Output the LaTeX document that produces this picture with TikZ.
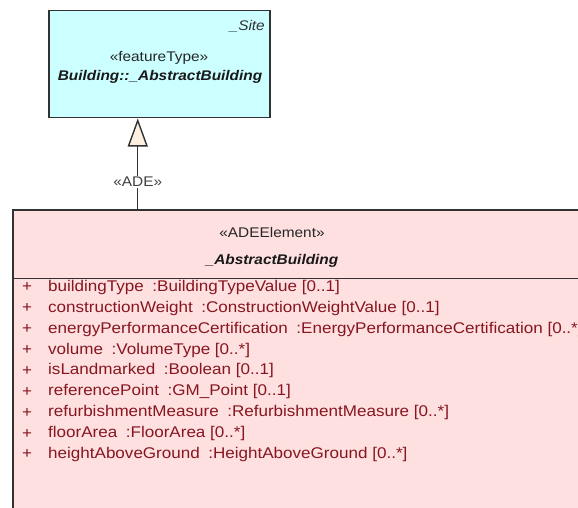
\documentclass[tikz,border=0pt]{standalone}
\usepackage{fontspec}
\setmainfont{Liberation Sans}[FakeStretch=1.1]
\usetikzlibrary{arrows.meta}
\definecolor{sitecyan}{RGB}{204,255,255}
\definecolor{adepink}{RGB}{255,224,224}
\definecolor{attrred}{RGB}{135,22,32}
\definecolor{umlborder}{RGB}{50,50,50}
\definecolor{gencream}{RGB}{253,240,225}
\begin{document}
\begin{tikzpicture}[x=1pt,y=-1pt,
    classbox/.style={draw=umlborder, line width=1.5pt, rectangle, inner sep=0pt, anchor=north west},
    stereo/.style={font=\fontsize{14}{16}\selectfont, text=black!85, inner sep=0pt},
    cname/.style={font=\fontsize{14}{16}\selectfont\bfseries\itshape, text=black!90, inner sep=0pt},
    pkgname/.style={font=\fontsize{14}{16}\selectfont\itshape, text=black!80, inner sep=0pt},
    attr/.style={font=\fontsize{15.5}{18}\selectfont, text=attrred, inner sep=0pt},
    generalize/.style={draw=umlborder, line width=1.4pt, -{Triangle[length=28pt, width=20pt, fill=gencream]}}]
    \clip (0,0) rectangle (578,508);
    \fill[white] (0,0) rectangle (578,508);

    % superclass from Building package
    \node[classbox, fill=sitecyan, minimum width=221pt, minimum height=107pt] (site) at (48,10) {};
    \node[pkgname, anchor=east] (sitepkg) at (265,26) {\_Site};
    \node[stereo] (sitestereo) at (159,58) {«featureType»};
    \node[cname] (sitename) at (160,77) {Building::\_AbstractBuilding};

    % ADE element
    \node[classbox, fill=adepink, minimum width=640pt, minimum height=340pt] (abs) at (12,209) {};
    \node[stereo] (absstereo) at (272,232) {«ADEElement»};
    \node[cname] (absname) at (272,261) {\_AbstractBuilding};
    \draw[draw=umlborder, line width=1.5pt] (abs.west |- 0,278.5) -- (abs.east |- 0,278.5);

    \foreach \aname/\atype [count=\i] in {
        buildingType/BuildingTypeValue [0..1],
        constructionWeight/ConstructionWeightValue [0..1],
        energyPerformanceCertification/EnergyPerformanceCertification [0..*],
        volume/VolumeType [0..*],
        isLandmarked/Boolean [0..1],
        referencePoint/GM\_Point [0..1],
        refurbishmentMeasure/RefurbishmentMeasure [0..*],
        floorArea/FloorArea [0..*],
        heightAboveGround/HeightAboveGround [0..*]}{
        \node[attr] (plus\i) at (27,287.3+20.9*\i-20.9) {+};
        \node[attr, anchor=west] (attr\i) at (48,287.3+20.9*\i-20.9) {\aname\hspace{0.55em}:\atype};
    }

    % generalization
    \coordinate (gentip) at ([xshift=-21.5pt]site.south);
    \draw[generalize] (gentip |- abs.north) -- node[pos=0.3, fill=white, inner sep=1.5pt, font=\fontsize{14}{16}\selectfont, text=black!75] (adelabel) {«ADE»} (gentip);
\end{tikzpicture}
\end{document}
